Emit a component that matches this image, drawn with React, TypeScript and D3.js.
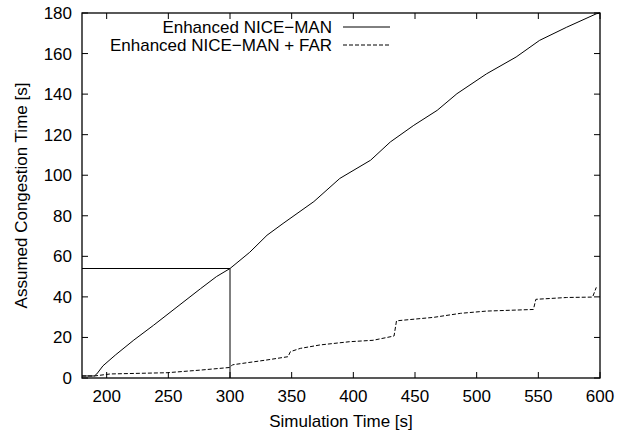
import React, {useRef, useEffect} from "react"
import * as d3 from "d3"

// Enhanced NICE-MAN (solid)
const manTime = [180, 190, 192, 197, 207, 222, 238, 257, 276, 289, 300, 316, 330, 343, 368, 389, 414, 430, 449, 468, 484, 508, 532, 551, 573, 597, 600]
const manValue = [1, 1, 2, 6, 11.3, 18.7, 26, 35, 44, 50, 54, 62, 70.4, 76.2, 87, 98.4, 107.4, 116.4, 124.6, 132, 140.2, 150, 158.3, 166.5, 173, 179.6, 180]

// Enhanced NICE-MAN + FAR (dashed)
const farTime = [180, 190, 203, 249, 276, 300, 302, 310, 330, 347, 349, 357, 373, 397, 416, 433, 435, 465, 487, 508, 546, 548, 573, 594, 597]
const farValue = [1, 1, 2, 2.6, 3.9, 5.2, 6.5, 7.2, 8.9, 10.5, 13, 14.6, 16.3, 17.9, 18.6, 20.7, 28.2, 29.9, 31.9, 33, 33.8, 38.8, 39.7, 39.9, 44.7]

const xTicks = [200, 250, 300, 350, 400, 450, 500, 550, 600]
const yTicks = [0, 20, 40, 60, 80, 100, 120, 140, 160, 180]

// marker at t = 300 s
const markTime = 300
const markValue = 54

const legendNames = ["Enhanced NICE\u2212MAN", "Enhanced NICE\u2212MAN + FAR"]

const App = () => {
    let element = useRef<SVGSVGElement>(null)

    useEffect(() => {
        let svg = d3.select(element.current)
        svg.selectAll("*").remove()

        let margin = {top: 13, right: 29, bottom: 54, left: 82},
            width = 629 - margin.left - margin.right,
            height = 432 - margin.top - margin.bottom

        let g = svg.append("g")
            .attr("transform", "translate(" + margin.left + "," + margin.top + ")")

        let x = d3.scaleLinear().domain([180, 600]).range([0, width])
        let y = d3.scaleLinear().domain([0, 180]).range([height, 0])

        let font = "'Liberation Sans', Arial, sans-serif"
        let tick = 6

        // ticks on all four sides, pointing inward
        g.selectAll(".xt").data(xTicks).enter().append("path")
            .attr("d", d => "M" + x(d) + "," + height + "v" + (-tick) + "M" + x(d) + ",0v" + tick)
            .attr("stroke", "#000").attr("fill", "none")
        g.selectAll(".yt").data(yTicks).enter().append("path")
            .attr("d", d => "M0," + y(d) + "h" + tick + "M" + width + "," + y(d) + "h" + (-tick))
            .attr("stroke", "#000").attr("fill", "none")

        g.selectAll(".xl").data(xTicks).enter().append("text")
            .attr("x", d => x(d))
            .attr("y", height + 24)
            .attr("text-anchor", "middle")
            .style("font", "17px " + font)
            .text(d => d)
        g.selectAll(".yl").data(yTicks).enter().append("text")
            .attr("x", -10)
            .attr("y", d => y(d) + 6)
            .attr("text-anchor", "end")
            .style("font", "17px " + font)
            .text(d => d)

        // marker lines
        g.append("path")
            .attr("d", "M0," + y(markValue) + "H" + x(markTime) + "V" + height)
            .attr("stroke", "#000").attr("fill", "none").attr("stroke-width", 1)

        let line = d3.line<number>()

        g.append("path")
            .datum(manTime.map((t, i) => [x(t), y(manValue[i])] as [number, number]))
            .attr("d", d3.line())
            .attr("fill", "none").attr("stroke", "#000").attr("stroke-width", 1)

        g.append("path")
            .datum(farTime.map((t, i) => [x(t), y(farValue[i])] as [number, number]))
            .attr("d", d3.line())
            .attr("fill", "none").attr("stroke", "#000").attr("stroke-width", 1)
            .attr("stroke-dasharray", "4,2")

        // frame
        g.append("rect")
            .attr("width", width).attr("height", height)
            .attr("fill", "none").attr("stroke", "#000").attr("stroke-width", 1.3)

        // legend
        legendNames.forEach((name, i) => {
            let ly = 14 + i * 18
            g.append("text")
                .attr("x", 250)
                .attr("y", ly + 6)
                .attr("text-anchor", "end")
                .style("font", "17px " + font)
                .text(name)
            g.append("line")
                .attr("x1", 261).attr("x2", 308)
                .attr("y1", ly).attr("y2", ly)
                .attr("stroke", "#000")
                .attr("stroke-dasharray", i === 1 ? "4,2" : null)
        })

        // axis titles
        svg.append("text")
            .attr("x", margin.left + width / 2)
            .attr("y", 427)
            .attr("text-anchor", "middle")
            .style("font", "17px " + font)
            .text("Simulation Time [s]")
        svg.append("text")
            .attr("transform", "translate(27," + (margin.top + height / 2) + ") rotate(-90)")
            .attr("text-anchor", "middle")
            .style("font", "17px " + font)
            .text("Assumed Congestion Time [s]")
    })

    return (
        <svg ref={element} width={629} height={432}
            style={{position: "absolute", left: 0, top: 0, background: "#fff"}}></svg>
    )
}

export default App
